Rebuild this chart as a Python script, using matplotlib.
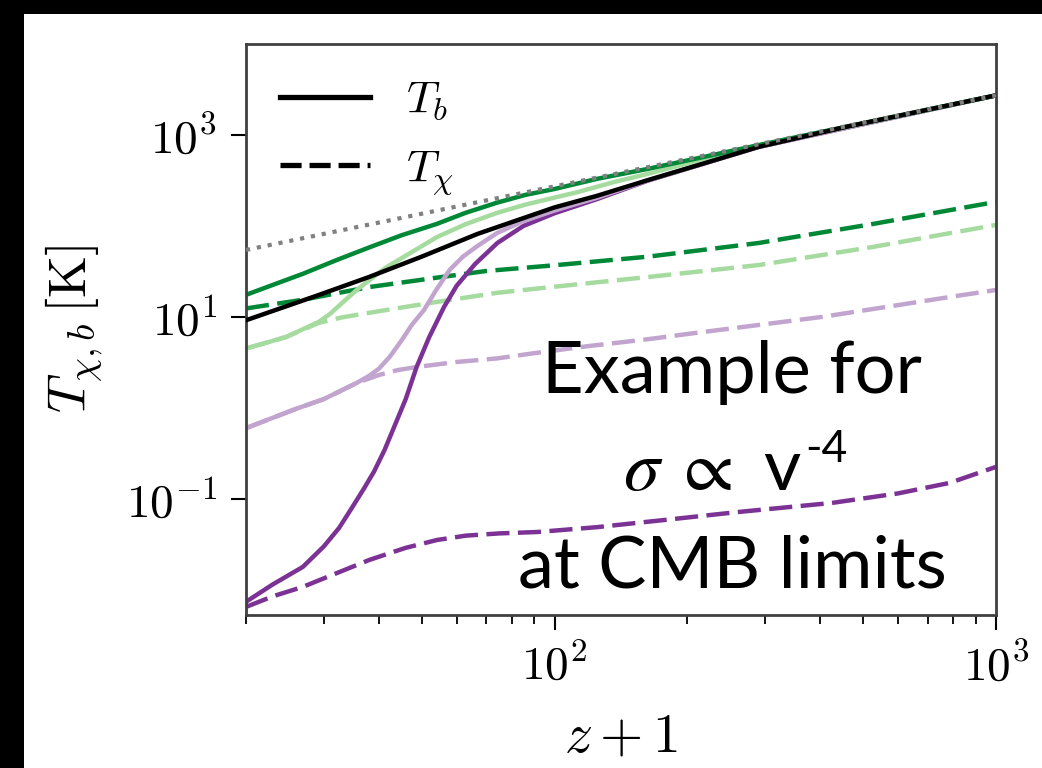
import matplotlib
matplotlib.use("Agg")
import matplotlib.pyplot as plt
from matplotlib.patches import Rectangle

plt.rcParams['mathtext.fontset'] = 'cm'
plt.rcParams['font.size'] = 30

# ---- data (z+1, temperature in K) ----
z_cmb = [20, 1000]
T_cmb = [54.5, 2725]

z_black = [20, 29, 38, 50, 67, 85, 100, 125, 163, 212, 290, 465, 1000]
T_black = [9.2, 17.2, 27.5, 46, 82, 122, 160, 215, 320, 468, 740, 1250, 2725]

z_dg_b = [20, 23, 27, 32, 38, 45, 54, 63, 74, 86, 100, 125, 163, 220, 290, 1000]
T_dg_b = [17.5, 22.5, 30, 42, 58, 79, 105, 140, 180, 220, 255, 330, 425, 580, 775, 2725]
z_dg_x = [20, 27, 38, 54, 70, 100, 163, 290, 525, 1000]
T_dg_x = [12.4, 15.5, 21.3, 27, 32, 37, 46, 65, 105, 184]

z_lg_b = [20, 24.6, 29.2, 31, 33.2, 35.5, 38.1, 41.5, 45.5, 54.2, 63, 74, 86, 100, 113, 135, 163, 220, 290, 1000]
T_lg_b = [4.5, 6.0, 8.8, 10.8, 14.6, 19.5, 25.5, 35, 45.6, 75.7, 105, 139, 172, 205, 236, 300, 375, 550, 765, 2725]
z_lg_x = [20, 24.6, 29.2, 33, 38, 46, 54, 74, 100, 163, 290, 525, 1000]
T_lg_x = [4.5, 6.0, 8.6, 9.9, 11.1, 12.9, 14.6, 18.4, 21.5, 27.5, 37.2, 58.7, 102.6]

z_lp_b = [20, 26, 30, 35.6, 38, 40, 42.3, 45, 47.5, 50.6, 54, 57.9, 62, 66.8, 74.2, 85, 100, 125, 163, 290, 1000]
T_lp_b = [0.6, 0.98, 1.25, 1.88, 2.25, 2.7, 3.63, 5.5, 8.2, 11.9, 20, 33, 46, 60, 84, 113, 148, 205, 318, 740, 2725]
z_lp_x = [20, 26, 30, 35.6, 40, 44, 48.7, 60, 74, 90, 120, 163, 210, 275, 403, 600, 800, 1000]
T_lp_x = [0.6, 0.98, 1.25, 1.88, 2.3, 2.6, 2.82, 3.2, 3.5, 4.0, 4.8, 5.7, 6.7, 7.9, 10, 13.5, 16.8, 19.8]

z_dp_b = [20, 23, 26.9, 30, 32.5, 34.7, 37, 39, 41.2, 43.5, 46, 48.7, 52, 56.2, 60, 66, 74.2, 85, 100, 125, 163, 290, 1000]
T_dp_b = [0.0074, 0.0115, 0.0179, 0.03, 0.048, 0.079, 0.13, 0.2, 0.345, 0.65, 1.25, 2.82, 6.0, 12.9, 22, 38, 65, 100, 138, 198, 316, 740, 2725]
z_dp_x = [20, 23, 26.9, 32, 38.1, 46, 54.2, 63, 75, 91.5, 125, 178, 261, 425, 600, 785, 1000]
T_dp_x = [0.0065, 0.0085, 0.0108, 0.0152, 0.0214, 0.029, 0.0354, 0.0395, 0.0418, 0.0433, 0.049, 0.0588, 0.0719, 0.0904, 0.115, 0.150, 0.225]

xticks = [100, 1000]
xticklabels = [r'$10^{2}$', r'$10^{3}$']
yticks = [1e-1, 1e1, 1e3]
yticklabels = [r'$10^{-1}$', r'$10^{1}$', r'$10^{3}$']

c_dg = '#008837'
c_lg = '#a6dba0'
c_lp = '#c2a5cf'
c_dp = '#7b3294'

fig = plt.figure(figsize=(10.42, 7.68), dpi=100)
fig.patch.set_facecolor('black')
fig.patches.append(Rectangle((24/1042, 0), 1, 1 - 14/768, transform=fig.transFigure,
                             facecolor='white', edgecolor='none', zorder=-10))

ax = fig.add_axes([246/1042, 1 - 615/768, (996-246)/1042, (615-44)/768])
ax.set_zorder(1)
ax.set_xscale('log')
ax.set_yscale('log')
ax.set_xlim(20, 1000)
ax.set_ylim(5.3e-3, 1e4)

lw = 3.2
dash = (0, (5.2, 1.9))
ax.plot(z_cmb, T_cmb, color='grey', lw=3.0, ls=':', zorder=5)
ax.plot(z_dp_x, T_dp_x, color=c_dp, lw=lw, ls=dash)
ax.plot(z_lp_x, T_lp_x, color=c_lp, lw=lw, ls=dash)
ax.plot(z_lg_x, T_lg_x, color=c_lg, lw=lw, ls=dash)
ax.plot(z_dg_x, T_dg_x, color=c_dg, lw=lw, ls=dash)
ax.plot(z_dp_b, T_dp_b, color=c_dp, lw=lw)
ax.plot(z_lp_b, T_lp_b, color=c_lp, lw=lw)
ax.plot(z_lg_b, T_lg_b, color=c_lg, lw=lw)
ax.plot(z_dg_b, T_dg_b, color=c_dg, lw=lw)
ax.plot(z_black, T_black, color='black', lw=lw, zorder=4)

# legend proxies
h1, = ax.plot([], [], color='black', lw=3.8)
h2, = ax.plot([], [], color='black', lw=3.8, ls=(0, (4.0, 1.5)))
ax.legend([h1, h2], [r'$T_b$', r'$T_\chi$'], loc='upper left', frameon=False,
          handlelength=1.95, handletextpad=0.8, labelspacing=0.5,
          borderaxespad=0.35, fontsize=33, bbox_to_anchor=(0.0, 1.0))

ax.set_xticks(xticks)
ax.set_xticklabels(xticklabels)
ax.set_yticks(yticks)
ax.set_yticklabels(yticklabels)
ax.yaxis.set_minor_locator(matplotlib.ticker.NullLocator())
ax.tick_params(which='major', length=11, width=1.5, direction='out', pad=10, labelsize=34)
ax.tick_params(which='minor', length=6.5, width=1.3, direction='out')
for s in ax.spines.values():
    s.set_color('#404040')
    s.set_linewidth(2.0)

ax.set_xlabel(r'$z+1$', fontsize=40, labelpad=14)
ax.set_ylabel(r'$T_{\chi,b}\,[\mathrm{K}]$', fontsize=39, labelpad=16)

# annotation text
cx = 732 / 1042
fig.text(cx, 1 - 393/768, 'Example for', ha='center', va='baseline',
         fontsize=52, family='Lato', color='black', zorder=5)
fig.text(cx, 1 - 587/768, 'at CMB limits', ha='center', va='baseline',
         fontsize=52, family='Lato', color='black', zorder=5)
fig.text(623/1042, 1 - 490/768, r'$\sigma\;\propto$', ha='left', va='baseline',
         fontsize=52, color='black', math_fontfamily='stix', zorder=5)
fig.text(763/1042, 1 - 490/768, 'v', ha='left', va='baseline',
         fontsize=52, family='Lato', color='black', zorder=5)
fig.text(805/1042, 1 - 462/768, '-4', ha='left', va='baseline',
         fontsize=32, family='Lato', color='black', zorder=5)

fig.savefig('out.png', dpi=100, facecolor=fig.get_facecolor())
